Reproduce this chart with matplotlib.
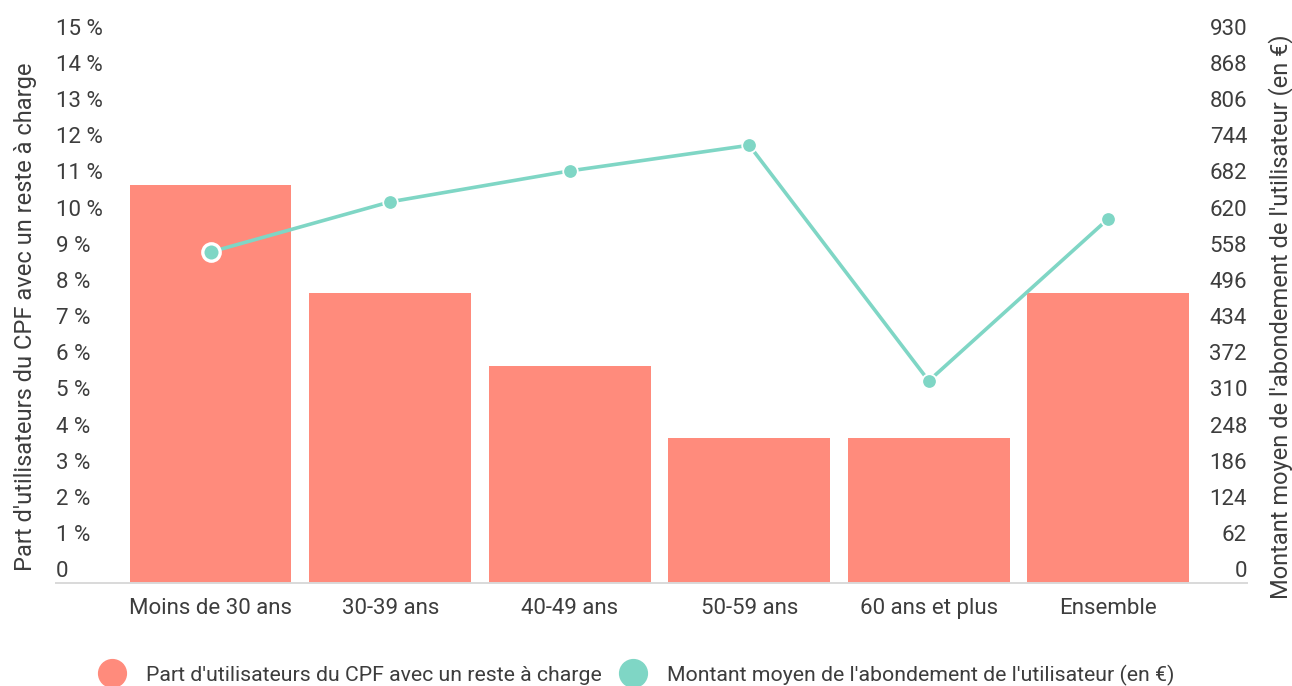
import matplotlib

matplotlib.use("Agg")
import matplotlib.pyplot as plt
import matplotlib.transforms as mtransforms
from matplotlib.lines import Line2D

CATEGORIES = ["Moins de 30 ans", "30-39 ans", "40-49 ans", "50-59 ans", "60 ans et plus", "Ensemble"]
SHARE_PCT = [11, 8, 6, 4, 4, 8]
AMOUNT_EUR = [567, 653, 706, 750, 346, 624]

LEFT_TICKS = list(range(0, 16))
LEFT_TICK_LABELS = ["0"] + [f"{v} %" for v in LEFT_TICKS[1:]]
RIGHT_TICKS = list(range(0, 931, 62))

BAR_LABEL = "Part d'utilisateurs du CPF avec un reste à charge"
LINE_LABEL = "Montant moyen de l'abondement de l'utilisateur (en €)"

BAR_COLOR = "#ff8b7c"
LINE_COLOR = "#7fd6c5"
TEXT_COLOR = "#3d3d3d"

plt.rcParams.update(
    {
        "font.family": ["Roboto", "DejaVu Sans"],
        "font.size": 16,
        "text.color": TEXT_COLOR,
        "axes.labelcolor": TEXT_COLOR,
        "xtick.color": TEXT_COLOR,
        "ytick.color": TEXT_COLOR,
    }
)

fig = plt.figure(figsize=(12.92, 6.86), dpi=100)
ax = fig.add_axes([0.0433, 0.1506, 0.9219, 0.7907])
ax2 = ax.twinx()

x = list(range(len(CATEGORIES)))
ax.bar(x, SHARE_PCT, width=0.9, color=BAR_COLOR, zorder=2)

# line series on the right axis, first point highlighted
ax2.plot(x, AMOUNT_EUR, color=LINE_COLOR, linewidth=2.6, marker="o", markersize=10.5,
         markeredgecolor="white", markeredgewidth=1.3, zorder=3)
ax2.plot(x[:1], AMOUNT_EUR[:1], linestyle="", marker="o", markersize=12.5,
         markerfacecolor=LINE_COLOR, markeredgecolor="white", markeredgewidth=2.4, zorder=4)

ax.set_xlim(-0.862, 5.773)
ax.set_ylim(0, 15)
ax2.set_ylim(0, 930)

ax.set_xticks(x)
ax.set_xticklabels(CATEGORIES)
ax.tick_params(axis="x", length=0, pad=11, labelsize=16)

ax.set_yticks(LEFT_TICKS)
ax.set_yticklabels(LEFT_TICK_LABELS)
ax.tick_params(axis="y", length=0, pad=0, labelsize=16)
ax2.set_yticks(RIGHT_TICKS)
ax2.tick_params(axis="y", length=0, pad=0, labelsize=16)

# tick labels sit inside the plot area, just above their value
shift = mtransforms.ScaledTranslation(0, 0.135, fig.dpi_scale_trans)
for lab in ax.get_yticklabels():
    lab.set_horizontalalignment("left")
    lab.set_transform(lab.get_transform() + shift)
for lab in ax2.get_yticklabels():
    lab.set_horizontalalignment("right")
    lab.set_transform(lab.get_transform() + shift)

for a in (ax, ax2):
    for side in ("top", "left", "right", "bottom"):
        a.spines[side].set_visible(False)
ax.spines["bottom"].set_visible(True)
ax.spines["bottom"].set_color("#d9d9d9")
ax.spines["bottom"].set_linewidth(1.4)

ax.set_ylabel(BAR_LABEL, fontsize=17)
ax.yaxis.set_label_coords(-0.016, 0.49)
ax2.set_ylabel(LINE_LABEL, fontsize=17)
ax2.yaxis.set_label_coords(1.018, 0.49)

handles = [
    Line2D([], [], linestyle="", marker="o", markersize=20, color=BAR_COLOR, label=BAR_LABEL),
    Line2D([], [], linestyle="", marker="o", markersize=20, color=LINE_COLOR, label=LINE_LABEL),
]
fig.legend(handles=handles, loc="center", bbox_to_anchor=(0.4925, 0.016), ncol=2, frameon=False,
           fontsize=15.3, handlelength=1.3, handletextpad=0.95, columnspacing=0.85)

fig.savefig("out.png", dpi=100)
